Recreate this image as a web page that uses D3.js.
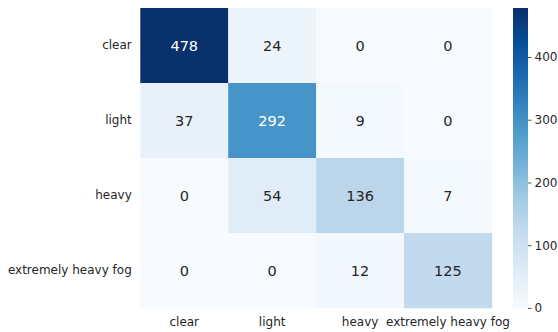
<!DOCTYPE html>
<html>
<head>
<meta charset="utf-8">
<script src="https://cdn.jsdelivr.net/npm/d3@7"></script>
<style>
  html, body { margin: 0; padding: 0; background: #fff; }
  svg { display: block; }
  text { font-family: "DejaVu Sans", sans-serif; }
</style>
</head>
<body>
<svg id="chart" width="558" height="332"></svg>
<script>
// Confusion matrix: rows = true class, columns = predicted class
const classes = ["clear", "light", "heavy", "extremely heavy fog"];
const counts = [
  [478, 24, 0, 0],
  [37, 292, 9, 0],
  [0, 54, 136, 7],
  [0, 0, 12, 125]
];
const colorbarTicks = [0, 100, 200, 300, 400];

// Sequential "Blues" palette stops (ColorBrewer 9-class)
const bluesStops = ["#f7fbff", "#deebf7", "#c6dbef", "#9ecae1", "#6baed6",
                    "#4292c6", "#2171b5", "#08519c", "#08306b"];

const svg = d3.select("#chart");
const textColor = "#262626";
const labelSize = "12px";

const plot = { left: 140.3, top: 8, width: 351.6, height: 300 };

const vmax = d3.max(counts.flat());
const vmin = 0;

const color = d3.scaleLinear()
  .domain(bluesStops.map((_, i) => vmin + (vmax - vmin) * i / (bluesStops.length - 1)))
  .range(bluesStops)
  .interpolate(d3.interpolateRgb)
  .clamp(true);

const x = d3.scaleBand().domain(classes)
  .range([plot.left, plot.left + plot.width]).padding(0);
const y = d3.scaleBand().domain(classes)
  .range([plot.top, plot.top + plot.height]).padding(0);

const cells = [];
counts.forEach((row, i) => row.forEach((v, j) => cells.push({ r: classes[i], c: classes[j], v })));

// Heatmap cells
svg.append("g").selectAll("rect").data(cells).join("rect")
  .attr("x", d => x(d.c))
  .attr("y", d => y(d.r))
  .attr("width", x.bandwidth() + 0.3)
  .attr("height", y.bandwidth() + 0.3)
  .attr("fill", d => color(d.v));

// Annotations: light text on dark cells
function luminance(c) {
  const rgb = d3.rgb(c);
  const f = v => { v /= 255; return v <= 0.03928 ? v / 12.92 : Math.pow((v + 0.055) / 1.055, 2.4); };
  return 0.2126 * f(rgb.r) + 0.7152 * f(rgb.g) + 0.0722 * f(rgb.b);
}
svg.append("g").selectAll("text").data(cells).join("text")
  .attr("x", d => x(d.c) + x.bandwidth() / 2)
  .attr("y", d => y(d.r) + y.bandwidth() / 2)
  .attr("dy", "0.36em")
  .attr("text-anchor", "middle")
  .attr("font-size", "14.5px")
  .attr("fill", d => luminance(color(d.v)) > 0.408 ? textColor : "#ffffff")
  .text(d => d.v);

// Axes (labels only, no tick lines or domain)
const xAxis = svg.append("g")
  .attr("transform", `translate(0,${plot.top + plot.height})`)
  .call(d3.axisBottom(x).tickSize(0).tickPadding(9.5));
const yAxis = svg.append("g")
  .attr("transform", `translate(${plot.left},0)`)
  .call(d3.axisLeft(y).tickSize(0).tickPadding(8.5));
[xAxis, yAxis].forEach(g => {
  g.select(".domain").remove();
  g.selectAll("text").attr("font-size", labelSize).attr("fill", textColor)
    .style("font-family", "'DejaVu Sans', sans-serif");
});

// Colorbar
const cb = { x: 513, width: 15, top: 8, height: 300 };
const defs = svg.append("defs");
const grad = defs.append("linearGradient").attr("id", "cbgrad")
  .attr("x1", "0").attr("y1", "1").attr("x2", "0").attr("y2", "0");
d3.range(0, 1.0001, 0.02).forEach(t => {
  grad.append("stop").attr("offset", t).attr("stop-color", color(vmin + t * (vmax - vmin)));
});
svg.append("rect")
  .attr("x", cb.x).attr("y", cb.top)
  .attr("width", cb.width).attr("height", cb.height)
  .attr("fill", "url(#cbgrad)");

const cbScale = d3.scaleLinear().domain([vmin, vmax]).range([cb.top + cb.height, cb.top]);
const cbAxis = svg.append("g")
  .attr("transform", `translate(${cb.x + cb.width},0)`)
  .call(d3.axisRight(cbScale).tickValues(colorbarTicks).tickSize(3.5).tickPadding(3));
cbAxis.select(".domain").remove();
cbAxis.selectAll("line").attr("stroke", textColor).attr("stroke-width", 0.8);
cbAxis.selectAll("text").attr("font-size", labelSize).attr("fill", textColor)
  .style("font-family", "'DejaVu Sans', sans-serif");
</script>
</body>
</html>
